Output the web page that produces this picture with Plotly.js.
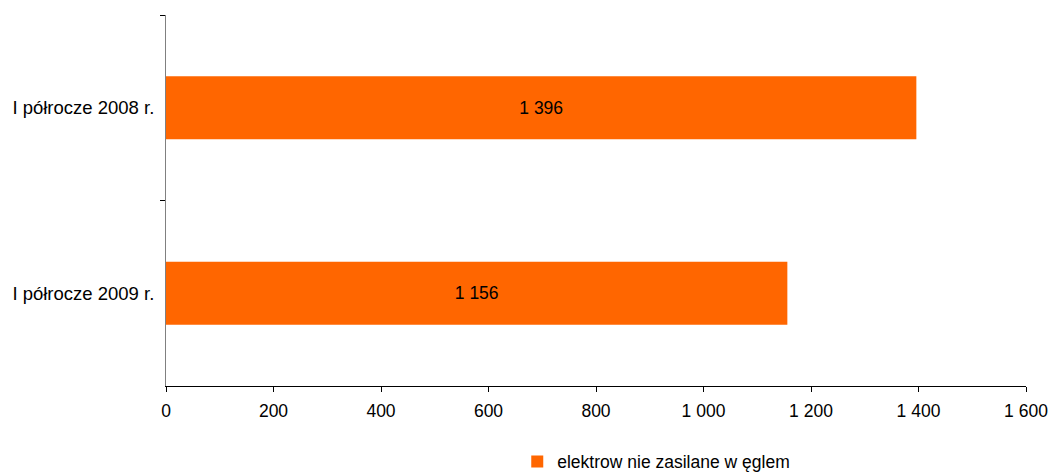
<!DOCTYPE html>
<html>
<head>
<meta charset="utf-8">
<script src="https://cdn.plot.ly/plotly-3.0.1.min.js"></script>
<style>html,body{margin:0;padding:0;background:#fff;}#chart{width:1050px;height:475px;}</style>
</head>
<body>
<div id="chart"></div>
<script>
const categories = ["I półrocze 2008 r.", "I półrocze 2009 r."];
const values = [1396, 1156];
const seriesName = "elektrow nie zasilane w ęglem";
const xTicks = [0, 200, 400, 600, 800, 1000, 1200, 1400, 1600];

const FONT = "Liberation Sans, Arial, sans-serif";

const trace = {
  type: "bar",
  orientation: "h",
  y: categories,
  x: values,
  name: seriesName,
  marker: {color: "#FF6600"},
  width: 0.34,
  text: values,
  texttemplate: "%{x:,d}",
  textposition: "inside",
  insidetextanchor: "middle",
  textfont: {family: FONT, size: 17.5, color: "#000"},
  showlegend: true,
  hoverinfo: "x+y"
};

const layout = {
  width: 1050, height: 475,
  margin: {l: 166, r: 24, t: 15, b: 89, autoexpand: false},
  paper_bgcolor: "#fff", plot_bgcolor: "#fff",
  separators: ", ",
  font: {family: FONT, size: 17.5, color: "#000"},
  xaxis: {
    range: [0, 1600],
    tickvals: xTicks,
    tickformat: ",d",
    showgrid: false, zeroline: false,
    showline: true, linecolor: "#000", linewidth: 1,
    ticks: "outside", ticklen: 5, tickcolor: "#000",
    ticklabelstandoff: 4,
    tickfont: {size: 17.5},
    automargin: false
  },
  yaxis: {
    autorange: "reversed",
    showgrid: false, zeroline: false,
    showline: true, linecolor: "#808080", linewidth: 1,
    ticks: "outside", ticklen: 5, tickcolor: "#000",
    tickson: "boundaries",
    ticklabelstandoff: 7,
    tickfont: {size: 18.5},
    automargin: false
  },
  legend: {
    orientation: "h",
    xref: "container", yref: "container",
    x: 0.625, xanchor: "center",
    y: 0.028, yanchor: "middle",
    font: {size: 17.5},
    itemwidth: 30
  }
};

Plotly.newPlot("chart", [trace], layout, {staticPlot: true});
</script>
</body>
</html>
